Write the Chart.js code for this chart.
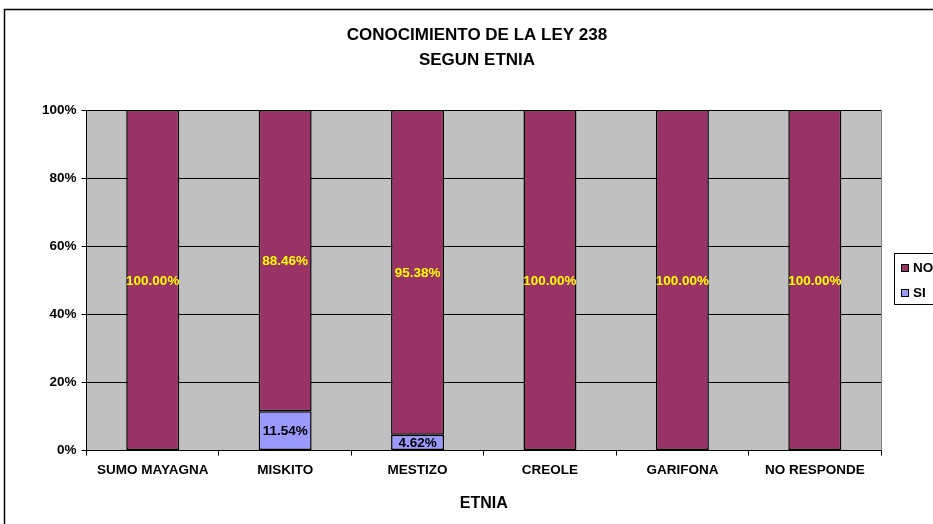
<!DOCTYPE html>
<html>
<head>
  <title>Conocimiento de la Ley 238 segun etnia</title>
  <script src="https://cdn.jsdelivr.net/npm/chart.js"></script>
  <style>
    html, body { margin: 0; padding: 0; overflow: hidden; background: #fff; }
    #wrap { position: absolute; left: 0; top: 0; width: 960px; height: 540px; }
  </style>
</head>
<body>
  <div id="wrap"><canvas id="myChart" width="960" height="540"></canvas></div>
  <script>
    // datos
    var etnias = ['SUMO MAYAGNA', 'MISKITO', 'MESTIZO', 'CREOLE', 'GARIFONA', 'NO RESPONDE'];
    var valoresNo = [100, 88.46, 95.38, 100, 100, 100];
    var valoresSi = [0, 11.54, 4.62, 0, 0, 0];
    var ticksY = [0, 20, 40, 60, 80, 100];
    var tituloLineas = ['CONOCIMIENTO DE LA LEY 238', 'SEGUN ETNIA'];

    var FONT = '"Liberation Sans", Arial, sans-serif';
    var colorNo = '#993366';
    var colorSi = '#9999ff';

    // marco, fondo gris del area de trazado y titulo
    var fondo = {
      id: 'fondo',
      beforeDraw: function(chart) {
        var c = chart.ctx, a = chart.chartArea;
        c.save();
        c.fillStyle = '#fff';
        c.fillRect(0, 0, chart.width, chart.height);
        c.strokeStyle = '#000';
        c.lineWidth = 1.5;
        c.strokeRect(4.5, 9.5, 1100, 700);
        c.fillStyle = '#c0c0c0';
        c.fillRect(a.left, a.top, a.right - a.left, a.bottom - a.top);
        c.strokeStyle = '#808080';
        c.lineWidth = 1;
        c.beginPath();
        c.moveTo(a.right + 0.5, a.top);
        c.lineTo(a.right + 0.5, a.bottom);
        c.stroke();
        c.fillStyle = '#000';
        c.font = 'bold 17px ' + FONT;
        c.textAlign = 'center';
        c.textBaseline = 'middle';
        tituloLineas.forEach(function(t, i) {
          c.fillText(t, 477, 35 + i * 25);
        });
        c.restore();
      }
    };

    // etiquetas de porcentaje dentro de cada segmento
    var etiquetas = {
      id: 'etiquetas',
      afterDatasetsDraw: function(chart) {
        var c = chart.ctx;
        c.save();
        c.font = 'bold 13.5px ' + FONT;
        c.textAlign = 'center';
        c.textBaseline = 'middle';
        chart.data.datasets.forEach(function(ds, i) {
          var meta = chart.getDatasetMeta(i);
          meta.data.forEach(function(bar, j) {
            var v = ds.data[j];
            if (!v) return;
            c.fillStyle = ds.labelColor;
            c.fillText(v.toFixed(2) + '%', bar.x, (bar.y + bar.base) / 2 + 1);
          });
        });
        c.restore();
      }
    };

    // leyenda con recuadro, cortada por el borde derecho como en el original
    var leyenda = {
      id: 'leyenda',
      afterDraw: function(chart) {
        var c = chart.ctx;
        var items = [chart.data.datasets[1], chart.data.datasets[0]];
        c.save();
        c.strokeStyle = '#000';
        c.lineWidth = 1;
        c.strokeRect(894.5, 253.5, 80, 51);
        c.font = 'bold 13.5px ' + FONT;
        c.textBaseline = 'middle';
        items.forEach(function(ds, i) {
          var y = 268 + i * 25;
          c.fillStyle = ds.backgroundColor;
          c.fillRect(901, y - 4, 7, 7);
          c.strokeRect(901.5, y - 3.5, 7, 7);
          c.fillStyle = '#000';
          c.fillText(ds.label, 913, y);
        });
        c.restore();
      }
    };

    var ctx = document.getElementById('myChart').getContext('2d');
    var myChart = new Chart(ctx, {
      type: 'bar',
      data: {
        labels: etnias,
        datasets: [
          {
            label: 'SI',
            data: valoresSi,
            backgroundColor: colorSi,
            borderColor: '#000',
            borderWidth: 1.5,
            borderSkipped: false,
            labelColor: '#000'
          },
          {
            label: 'NO',
            data: valoresNo,
            backgroundColor: colorNo,
            borderColor: '#000',
            borderWidth: 1.5,
            borderSkipped: false,
            labelColor: '#ffff00'
          }
        ]
      },
      options: {
        responsive: false,
        animation: false,
        devicePixelRatio: 1,
        layout: { padding: { left: 37, right: 79, top: 110, bottom: 23 } },
        datasets: { bar: { barPercentage: 0.4, categoryPercentage: 1 } },
        plugins: {
          legend: { display: false },
          title: { display: false },
          tooltip: { enabled: false }
        },
        scales: {
          x: {
            stacked: true,
            grid: { drawOnChartArea: false, drawTicks: true, tickLength: 5, color: '#000' },
            border: { color: '#000', width: 1 },
            ticks: { color: '#000', font: { family: FONT, size: 13.5, weight: 'bold' }, padding: 7, maxRotation: 0, autoSkip: false },
            title: { display: true, text: 'ETNIA', color: '#000', font: { family: FONT, size: 16, weight: 'bold' }, padding: { top: 8, bottom: 4 } }
          },
          y: {
            stacked: true,
            min: 0,
            max: 100,
            afterBuildTicks: function(axis) {
              axis.ticks = ticksY.map(function(v) { return { value: v }; });
            },
            grid: { color: '#000', tickLength: 5, lineWidth: 1 },
            border: { color: '#000', width: 1 },
            ticks: {
              color: '#000',
              padding: 5,
              font: { family: FONT, size: 13.5, weight: 'bold' },
              callback: function(v) { return v + '%'; }
            }
          }
        }
      },
      plugins: [fondo, etiquetas, leyenda]
    });
  </script>
</body>
</html>
